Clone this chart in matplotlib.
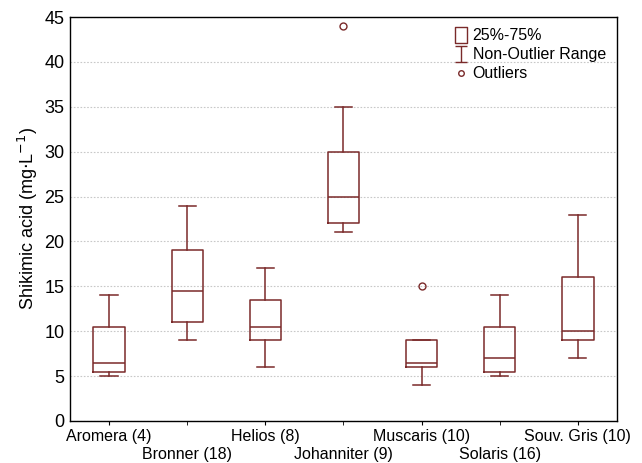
import matplotlib

matplotlib.use("Agg")
import matplotlib.pyplot as plt
from matplotlib.lines import Line2D
from matplotlib.path import Path

plt.rcParams["font.family"] = ["Liberation Sans", "DejaVu Sans"]

# values
cultivars = ["Aromera (4)", "Bronner (18)", "Helios (8)", "Johanniter (9)",
             "Muscaris (10)", "Solaris (16)", "Souv. Gris (10)"]
whisker_low = [5, 9, 6, 21, 4, 5, 7]
q1 = [5.5, 11, 9, 22, 6, 5.5, 9]
median = [6.5, 14.5, 10.5, 25, 6.5, 7, 10]
q3 = [10.5, 19, 13.5, 30, 9, 10.5, 16]
whisker_high = [14, 24, 17, 35, 9, 14, 23]
outliers = [[], [], [], [44], [15], [], []]

RED = "#7a2a2a"

stats = []
for i, name in enumerate(cultivars):
    stats.append({
        "label": name, "whislo": whisker_low[i], "q1": q1[i], "med": median[i],
        "q3": q3[i], "whishi": whisker_high[i], "fliers": outliers[i],
    })

fig = plt.figure(figsize=(6.42, 4.63), dpi=100)
ax = fig.add_axes([0.109, 0.091, 0.852, 0.872])

line_kw = dict(color=RED, linewidth=1.1)
ax.bxp(stats, widths=0.4, capwidths=0.22, showfliers=True,
       boxprops=line_kw, whiskerprops=line_kw, capprops=line_kw,
       medianprops=line_kw,
       flierprops=dict(marker="o", markersize=5, markerfacecolor="none",
                       markeredgecolor=RED, markeredgewidth=1.0))

ax.set_xlim(0.5, len(cultivars) + 0.5)
ax.set_ylim(0, 45)
ax.set_yticks(range(0, 46, 5))

# staggered category labels: odd positions on the first row, even ones below
positions = list(range(1, len(cultivars) + 1))
ax.set_xticks(positions[0::2])
ax.set_xticklabels(cultivars[0::2], fontsize=11.5)
ax.set_xticks(positions[1::2], minor=True)
ax.set_xticklabels(cultivars[1::2], minor=True, fontsize=11.5)
ax.tick_params(axis="x", which="major", length=3, direction="out", pad=3)
ax.tick_params(axis="x", which="minor", length=3, direction="out", pad=16)
ax.tick_params(axis="y", length=0, labelsize=13, pad=4)

ax.yaxis.grid(True, linestyle=(0, (1.5, 1.5)), color="#c8c8c8", linewidth=0.8)
ax.set_axisbelow(True)
for sp in ax.spines.values():
    sp.set_linewidth(1.0)
ax.set_ylabel("Shikimic acid (mg$\\cdot$L$^{-1}$)", fontsize=13, labelpad=3)

# legend symbols
box_path = Path([(-0.4, -0.5), (0.4, -0.5), (0.4, 0.5), (-0.4, 0.5), (-0.4, -0.5)],
                [Path.MOVETO, Path.LINETO, Path.LINETO, Path.LINETO, Path.CLOSEPOLY])
ibar_path = Path([(-0.35, 0.5), (0.35, 0.5), (0, 0.5), (0, -0.5), (-0.35, -0.5), (0.35, -0.5)],
                 [Path.MOVETO, Path.LINETO, Path.MOVETO, Path.LINETO, Path.MOVETO, Path.LINETO])
handles = [
    Line2D([], [], linestyle="none", marker=box_path, markersize=11,
           markerfacecolor="none", markeredgecolor=RED, markeredgewidth=1.0),
    Line2D([], [], linestyle="none", marker=ibar_path, markersize=12,
           markerfacecolor="none", markeredgecolor=RED, markeredgewidth=1.0),
    Line2D([], [], linestyle="none", marker="o", markersize=4,
           markerfacecolor="none", markeredgecolor=RED, markeredgewidth=1.0),
]
ax.legend(handles, ["25%-75%", "Non-Outlier Range", "Outliers"], loc="upper right",
          frameon=False, fontsize=11.5, handlelength=0.8, handletextpad=0.3,
          labelspacing=0.25, borderaxespad=0.3)

fig.savefig("out.png", dpi=100)
